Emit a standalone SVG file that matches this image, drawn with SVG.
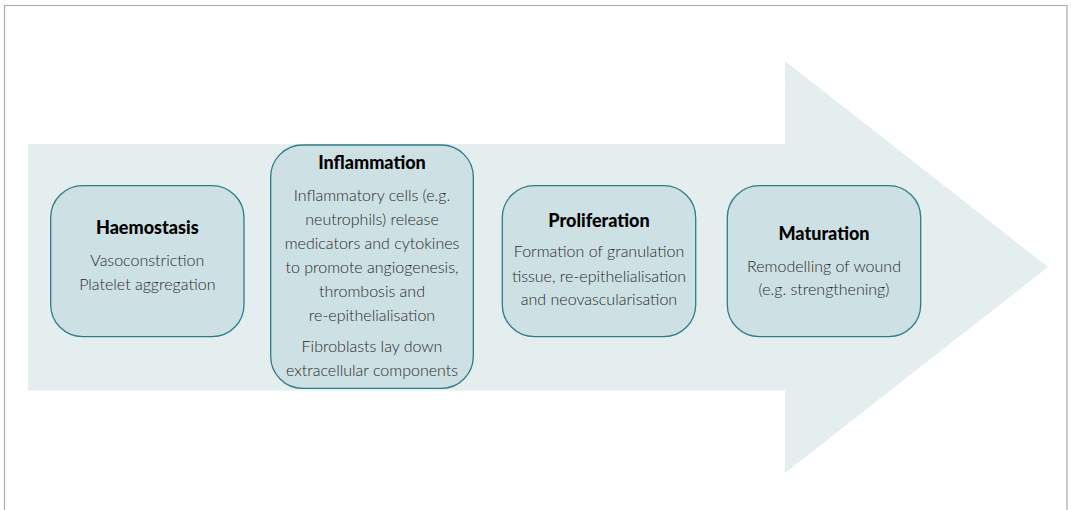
<svg xmlns="http://www.w3.org/2000/svg" width="1071" height="510" viewBox="0 0 1071 510">
<style>
.box{fill:#cde0e3;stroke:#2e7c88;stroke-width:1.3}
.t{font-family:Lato,"Open Sans",sans-serif;font-weight:900;font-size:18px;fill:#000;text-anchor:middle}
.b{font-family:Lato,"Open Sans",sans-serif;font-weight:300;font-size:16px;fill:#2a2a2a;text-anchor:middle}
</style>
<rect x="0" y="0" width="1071" height="510" fill="#fff"/>
<path d="M4.5 511 V5.5 H1067 V511" fill="none" stroke="#a9a9a9" stroke-width="1.2"/>
<g id="arrow">
<polygon points="28,144 785,144 785,61 1048,267 785,473 785,390.5 28,390.5" fill="#e4eeef"/>
</g>
<g id="connectors"></g>
<g id="haemostasis">
<rect class="box" x="50.7" y="185.7" width="193.3" height="151" rx="32"/>
<text class="t" x="147.3" y="234.3">Haemostasis</text>
<text class="b" x="147.3" y="265.7">Vasoconstriction</text>
<text class="b" x="147.3" y="290">Platelet aggregation</text>
</g>
<g id="inflammation">
<rect class="box" x="270.7" y="145" width="202.6" height="243.3" rx="32"/>
<text class="t" x="372" y="169.3">Inflammation</text>
<text class="b" x="372" y="201">Inflammatory cells (e.g.</text>
<text class="b" x="372" y="225">neutrophils) release</text>
<text class="b" x="372" y="249">medicators and cytokines</text>
<text class="b" x="372" y="273.3">to promote angiogenesis,</text>
<text class="b" x="372" y="296.7">thrombosis and</text>
<text class="b" x="372" y="320.7">re-epithelialisation</text>
<text class="b" x="372" y="352.3">Fibroblasts lay down</text>
<text class="b" x="372" y="375.7">extracellular components</text>
</g>
<g id="proliferation">
<rect class="box" x="502.3" y="185.7" width="193.4" height="151" rx="32"/>
<text class="t" x="599" y="226.7">Proliferation</text>
<text class="b" x="599" y="257.3">Formation of granulation</text>
<text class="b" x="599" y="281.7">tissue, re-epithelialisation</text>
<text class="b" x="599" y="305">and neovascularisation</text>
</g>
<g id="maturation">
<rect class="box" x="727.3" y="185.7" width="193.4" height="151" rx="32"/>
<text class="t" x="824" y="240">Maturation</text>
<text class="b" x="824" y="271.7">Remodelling of wound</text>
<text class="b" x="824" y="295">(e.g. strengthening)</text>
</g>
</svg>
